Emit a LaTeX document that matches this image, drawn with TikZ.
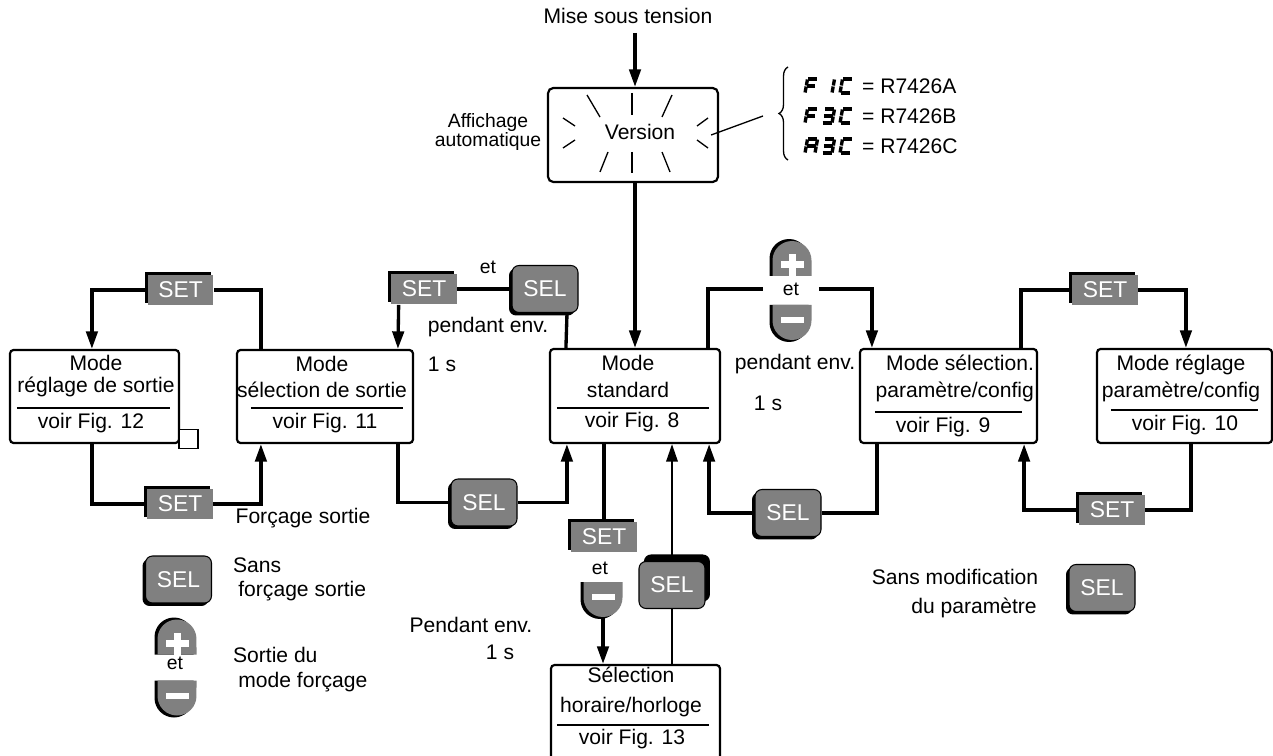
\documentclass[tikz,border=0pt]{standalone}
\usepackage{fontspec}
\setmainfont{Liberation Sans}
\usetikzlibrary{positioning,arrows.meta,calc,shadows,decorations.pathreplacing}
\definecolor{keygray}{RGB}{128,128,128}
\tikzset{
  modebox/.style={draw=black, line width=1.25pt, rounded corners=2pt, inner sep=0pt},
  lbl/.style={font=\fontsize{12}{14}\selectfont, inner sep=1pt, align=center},
  etl/.style={lbl, font=\fontsize{11}{13}\selectfont},
  keybase/.style={fill=keygray, text=white, font=\fontsize{13}{15}\selectfont, inner sep=0pt},
  setkey/.style={keybase, minimum width=1.32cm, minimum height=0.62cm, general shadow={fill=black, shadow xshift=-1.7pt, shadow yshift=1.7pt}},
  selbase/.style={keybase, draw=black, line width=0.6pt, rounded corners=4pt, minimum width=1.32cm, minimum height=0.94cm},
  selkey/.style={selbase, general shadow={fill=black, shadow xshift=-1.7pt, shadow yshift=-1.7pt}},
  selkeyup/.style={selbase, general shadow={fill=black, shadow xshift=2.8pt, shadow yshift=4pt}},
  ln/.style={line width=1.9pt},
  arr/.style={ln, -{Triangle[length=10pt,width=6.5pt]}},
  thinln/.style={line width=1.2pt},
  thinarr/.style={thinln, -{Triangle[length=10pt,width=6.5pt]}},
  sepline/.style={line width=1.6pt},
  ray/.style={line width=0.75pt},
  segm/.style={line width=1.9pt}
}
% seven segment glyphs (x1/y1/x2/y2 per segment)
\newcommand{\segF}{0.5/-14/9.5/-14, 0/-13.5/0/-7.5, 0/-6.5/0/-0.5, 0.5/-7/9/-7}
\newcommand{\segOne}{10/-13.5/10/-7.5, 10/-6.5/10/-0.5}
\newcommand{\segC}{0.5/-14/9.5/-14, 0/-13.5/0/-7.5, 0/-6.5/0/-0.5, 0.5/0/9.5/0}
\newcommand{\segThree}{0.5/-14/9.5/-14, 10/-13.5/10/-7.5, 10/-6.5/10/-0.5, 0.5/0/9.5/0, 1/-7/9.5/-7}
\newcommand{\segA}{0.5/-14/9.5/-14, 10/-13.5/10/-7.5, 10/-6.5/10/-0.5, 0/-13.5/0/-7.5, 0/-6.5/0/-0.5, 0.5/-7/9.5/-7}
\newcommand{\dispchar}[2]{%
  \begin{scope}[shift={#1}, xslant=0.18]
    \foreach \xa/\ya/\xb/\yb in #2 {\draw[segm] (\xa,\ya) -- (\xb,\yb);}
  \end{scope}}
% halves of the +/- key
\newcommand{\pluskey}[2]{%
  \node[inner sep=0pt, minimum width=0.78cm, minimum height=0.7cm] (#2) at #1 {};
  \begin{scope}[shift={#1}]
    \fill[black] (-22.5,17.5) -- (-22.5,0) arc[start angle=180, end angle=0, radius=0.39cm] -- (16.5,17.5) -- cycle;
    \fill[keygray] (-19.5,17.5) -- (-19.5,2) arc[start angle=180, end angle=0, radius=0.39cm] -- (19.5,17.5) -- cycle;
    \fill[white] (-11.5,3) rectangle (11.5,10);
    \fill[white] (-3.5,-4) rectangle (3.5,17.5);
  \end{scope}}
\newcommand{\minuskey}[2]{%
  \node[inner sep=0pt, minimum width=0.78cm, minimum height=0.7cm] (#2) at #1 {};
  \begin{scope}[shift={#1}]
    \fill[black] (-22.5,-17.5) -- (-22.5,0) arc[start angle=180, end angle=360, radius=0.39cm] -- (16.5,-17.5) -- cycle;
    \fill[keygray] (-19.5,-17.5) -- (-19.5,-2) arc[start angle=180, end angle=360, radius=0.39cm] -- (19.5,-17.5) -- cycle;
    \fill[white] (-11.5,-5.5) rectangle (11.5,0.5);
  \end{scope}}

\begin{document}
\begin{tikzpicture}[x=0.02cm, y=-0.02cm]
  \useasboundingbox (0,0) rectangle (1273,756);

  % power on / version
  \node[lbl, inner ysep=5pt] (mst) at (628,16) {Mise sous tension};
  \node[modebox, rounded corners=3pt, minimum width=3.4cm, minimum height=1.88cm] (ver) at (633,135) {};
  \node[lbl] (vtxt) at (640,132) {Version};
  \node[lbl, font=\fontsize{11}{10.2}\selectfont] (aff) at (488,132) {Affichage\\automatique};
  \begin{scope}[shift={(ver.center)}]
    \foreach \xa/\ya/\xb/\yb in {-46/-40/-33/-18, 39/-40/29/-18, -70/-17/-58/-9, -70/13/-58/5, 64/-9/75/-17, 64/5/75/13, -33/37/-25/17, 37/37/29/17}
      \draw[ray] (\xa,\ya) -- (\xb,\yb);
    \draw[ray, line width=1.4pt] (-1,-42) -- (-1,-20) (-1,17) -- (-1,38);
  \end{scope}
  \coordinate (brt) at (788,67);
  \coordinate (brb) at (788,160);
  \coordinate (brc) at (763,116);
  \draw[ray, decorate, decoration={brace, amplitude=0.18cm}] (brb) -- (brt);
  \draw[ray] ($(ver.east)+(-8,0)$) -- (brc);
  \dispchar{(805,93)}{\segF} \dispchar{(822,93)}{\segOne} \dispchar{(840,93)}{\segC}
  \dispchar{(805,123)}{\segF} \dispchar{(822,123)}{\segThree} \dispchar{(840,123)}{\segC}
  \dispchar{(805,153)}{\segA} \dispchar{(822,153)}{\segThree} \dispchar{(840,153)}{\segC}
  \node[lbl, anchor=west] (va) at (860,86) {= R7426A};
  \node[lbl, anchor=west] (vb) at (860,116) {= R7426B};
  \node[lbl, anchor=west] (vc) at (860,146) {= R7426C};

  % mode boxes
  \node[modebox, minimum width=3.38cm, minimum height=1.86cm] (reg) at (94.5,396.5) {};
  \node[lbl, font=\fontsize{12}{12.5}\selectfont] (regt) at (96,376) {Mode\\réglage de sortie};
  \draw[sepline] ($(reg.west)+(8,11.5)$) -- ($(reg.east)+(-10,11.5)$);
  \node[lbl] (regf) at (91,423) {voir Fig. 12};
  \node[draw, fill=white, line width=0.6pt, minimum size=0.38cm, inner sep=0pt] (sq) at (188.5,439) {};

  \node[modebox, minimum width=3.52cm, minimum height=1.86cm] (sel) at (325,396.5) {};
  \node[lbl, font=\fontsize{12}{15.3}\selectfont] (selt) at (322,377) {Mode\\sélection de sortie};
  \draw[sepline] ($(sel.west)+(15,11.5)$) -- ($(sel.east)+(-11,11.5)$);
  \node[lbl] (self) at (325,423) {voir Fig. 11};

  \node[modebox, minimum width=3.4cm, minimum height=1.88cm] (std) at (635,396) {};
  \node[lbl, font=\fontsize{12}{15.3}\selectfont] (stdt) at (628,376.5) {Mode\\standard};
  \draw[sepline] ($(std.west)+(8,12)$) -- ($(std.east)+(-12,12)$);
  \node[lbl] (stdf) at (632,422) {voir Fig. 8};

  \node[modebox, minimum width=3.54cm, minimum height=1.88cm] (parsel) at (948.5,396) {};
  \node[lbl, anchor=east, align=right, font=\fontsize{12}{15.3}\selectfont] (parselt) at (1036,378.5) {Mode sélection.\\paramètre/config};
  \draw[sepline] ($(parsel.west)+(16,16)$) -- ($(parsel.east)+(-16,16)$);
  \node[lbl] (parself) at (943,427) {voir Fig. 9};

  \node[modebox, minimum width=3.5cm, minimum height=1.88cm] (parreg) at (1184.5,396) {};
  \node[lbl, font=\fontsize{12}{15.3}\selectfont] (parregt) at (1181,378.5) {Mode réglage\\paramètre/config};
  \draw[sepline] ($(parreg.west)+(15,14)$) -- ($(parreg.east)+(-15,14)$);
  \node[lbl] (parregf) at (1185,425) {voir Fig. 10};

  \node[modebox, minimum width=3.38cm, minimum height=2.1cm] (horl) at (635.5,717.5) {};
  \node[lbl, font=\fontsize{12}{17}\selectfont] (horlt) at (631,692) {Sélection\\horaire/horloge};
  \draw[sepline] ($(horl.west)+(7,7.5)$) -- ($(horl.east)+(-12,7.5)$);
  \node[lbl] (horlf) at (632,739) {voir Fig. 13};

  % keys
  \node[setkey] (set1) at (180.5,290) {SET};
  \node[setkey] (set2) at (424,289) {SET};
  \node[selkey] (sel2) at (545,289) {SEL};
  \node[setkey] (set3) at (1105,290) {SET};
  \node[setkey] (set4) at (1112,510) {SET};
  \node[selkey] (sel3) at (788,513) {SEL};
  \node[setkey] (set5) at (180,504) {SET};
  \node[selkey] (sel4) at (484,502.5) {SEL};
  \node[setkey] (set6) at (604,537) {SET};
  \node[selkeyup] (sel5) at (672,585) {SEL};
  \node[selkey] (sel6) at (178.5,579.5) {SEL};
  \node[selkey] (sel7) at (1102,588) {SEL};
  \pluskey{(792,258.5)}{pl1}
  \minuskey{(792,322.5)}{mi1}
  \node[etl, minimum width=1.1cm] (et1) at (791,289) {et};
  \minuskey{(603,599.5)}{mi2}
  \node[etl] (et2) at (600,568) {et};
  \pluskey{(177,637)}{pl3}
  \minuskey{(177,698)}{mi3}
  \node[etl] (et3) at (175,663) {et};

  % labels
  \node[etl] (et0) at (488,267) {et};
  \node[lbl] (pe1) at (488,327) {pendant env.};
  \node[lbl] (os1) at (442,364) {1 s};
  \node[lbl] (pe2) at (795,364) {pendant env.};
  \node[lbl] (os2) at (768,403) {1 s};
  \node[lbl] (fs) at (303,518) {Forçage sortie};
  \node[lbl, anchor=west, align=left] (sfs) at (231,579.5) {Sans\\\hspace*{3pt}forçage sortie};
  \node[lbl, anchor=west, align=left] (sdm) at (231,669.5) {Sortie du\\\hspace*{3pt}mode forçage};
  \node[lbl] (pe3) at (471,625) {Pendant env.};
  \node[lbl] (os3) at (500,652) {1 s};
  \node[lbl] (smd1) at (955,577) {Sans modification};
  \node[lbl] (smd2) at (974,608) {du paramètre};

  % connectors
  \draw[arr] (mst.south -| std.north) -- (ver.north -| std.north);
  \draw[arr] (ver.south -| std.north) -- (std.north);
  \draw[ln] ($(sel.north west)+(25,0)$) |- (set1.east);
  \draw[arr] (set1.west) -| ($(reg.north west)+(83,0)$);
  \draw[ln] (sel2.south) ++(22,0) -- ($(std.north west)+(17,0)$);
  \draw[ln] (sel2.west) -- (set2.east);
  \draw[arr] ($(set2.south west)+(8,0)$) -- ($(sel.north west)+(162,0)$);
  \draw[ln] ($(std.north east)+(-13,0)$) |- (et1.west);
  \draw[arr] (et1.east) -| ($(parsel.north west)+(13,0)$);
  \draw[ln] ($(parsel.north east)+(-17,0)$) |- (set3.west);
  \draw[arr] (set3.east) -| ($(parreg.north west)+(90,0)$);
  \draw[ln] ($(parreg.south west)+(95,0)$) |- (set4.east);
  \draw[arr] (set4.west) -| ($(parsel.south east)+(-14,0)$);
  \draw[ln] ($(parsel.south west)+(18,0)$) |- (sel3.east);
  \draw[arr] (sel3.west) -| ($(std.south east)+(-12,0)$);
  \draw[ln] ($(sel.south west)+(162,0)$) |- (sel4.west);
  \draw[arr] (sel4.east) -| ($(std.south west)+(18,0)$);
  \draw[ln] ($(reg.south west)+(83,0)$) |- (set5.west);
  \draw[arr] (set5.east) -| ($(sel.south west)+(25,0)$);
  \draw[ln] (set6.north |- std.south) -- (set6.north);
  \draw[arr] (mi2.south) -- (mi2.south |- horl.north);
  \draw[thinln] (sel5.south) -- (sel5.south |- horl.north);
  \draw[thinarr] (sel5.north) -- (sel5.north |- std.south);
\end{tikzpicture}
\end{document}
